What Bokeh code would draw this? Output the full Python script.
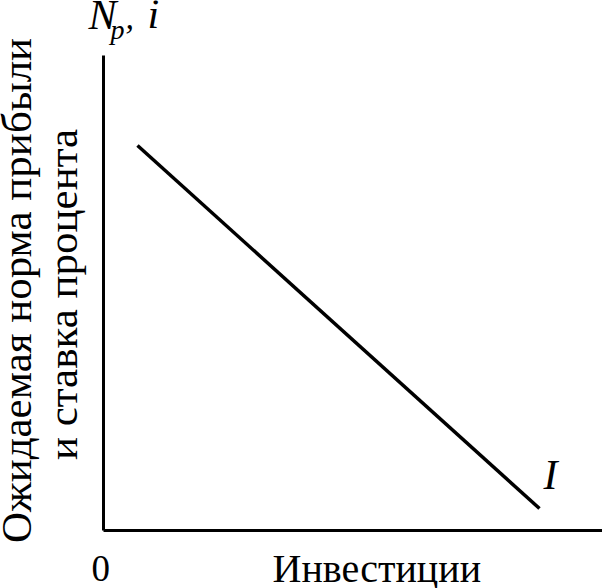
import math
from bokeh.plotting import figure
from bokeh.models import Range1d
from bokeh.core.properties import value
from bokeh.embed import file_html
from bokeh.resources import INLINE

# Investment demand curve I (schematic units)
invest = [34, 436]
rate = [385, 22]

x_axis_label = "Инвестиции"
y_label_1 = "Ожидаемая норма прибыли"
y_label_2 = "и ставка процента"
origin_label = "0"
curve_label = "I"

W, H = 602, 588
X0, Y0 = 103, 58  # origin position in canvas pixels (from left, from bottom)
p = figure(width=W, height=H, output_backend="svg", toolbar_location=None,
           x_range=Range1d(-X0, W - X0), y_range=Range1d(-Y0, H - Y0),
           min_border=0, outline_line_color=None)
p.axis.visible = False
p.grid.visible = False
p.background_fill_color = "white"
p.border_fill_color = "white"

FONT = value("Liberation Serif")

# axes
p.line([0, 0], [0, 475], line_color="black", line_width=3)
p.line([0, 510], [0, 0], line_color="black", line_width=3)

# demand curve
p.line(invest, rate, line_color="black", line_width=3.5)

# labels
p.text(x=[-12], y=[-38], text=[origin_label], text_font=FONT, text_font_size="37px",
       text_align="left", text_baseline="alphabetic")
p.text(x=[169], y=[-38], text=[x_axis_label], text_font=FONT, text_font_size="40px",
       text_align="left", text_baseline="alphabetic")
p.text(x=[440], y=[56], text=[curve_label], text_font=FONT, text_font_size="42px",
       text_font_style="italic", text_align="left", text_baseline="alphabetic")
p.text(x=[-15], y=[516], text=["N"], text_font=FONT, text_font_size="42px",
       text_font_style="italic", text_align="left", text_baseline="alphabetic")
p.text(x=[7], y=[501], text=["p"], text_font=FONT, text_font_size="28px",
       text_font_style="italic", text_align="left", text_baseline="alphabetic")
p.text(x=[22], y=[513], text=[","], text_font=FONT, text_font_size="34px",
       text_font_style="italic", text_align="left", text_baseline="alphabetic")
p.text(x=[44], y=[517], text=["i"], text_font=FONT, text_font_size="42px",
       text_font_style="italic", text_align="left", text_baseline="alphabetic")

p.text(x=[-87], y=[240], text=[y_label_1], text_font=FONT, text_font_size="43px",
       angle=math.pi / 2, text_align="center", text_baseline="alphabetic")
p.text(x=[-41], y=[236], text=[y_label_2], text_font=FONT, text_font_size="43px",
       angle=math.pi / 2, text_align="center", text_baseline="alphabetic")

open("out.html", "w").write(file_html(p, INLINE))
